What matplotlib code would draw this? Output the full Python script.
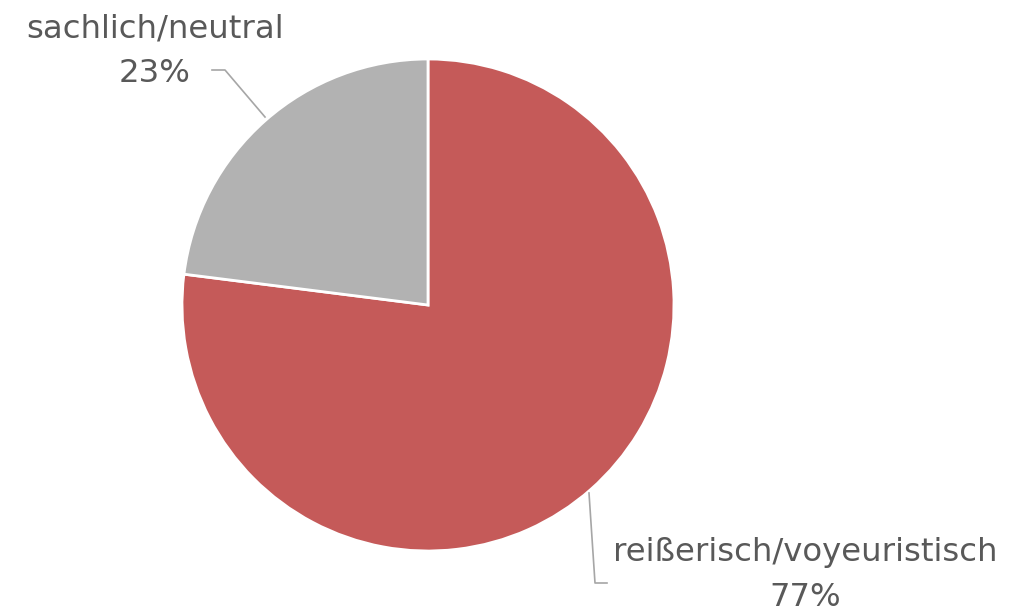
import matplotlib.pyplot as plt

categories = ['reißerisch/voyeuristisch', 'sachlich/neutral']
shares = [77, 23]
colors = ['#C55A59', '#B2B2B2']

W, H = 1028, 615
fig = plt.figure(figsize=(W / 100, H / 100), dpi=100)
ax = fig.add_axes([0, 0, 1, 1])

cx, cy, r = 428, H - 305, 246
ax.pie(shares, colors=colors, startangle=90, counterclock=False,
       center=(cx, cy), radius=r, frame=True,
       wedgeprops=dict(edgecolor='white', linewidth=2))
ax.set_xlim(0, W)
ax.set_ylim(0, H)
ax.set_aspect('equal')
ax.axis('off')

txt = dict(color='#595959', fontsize=23.3, family='DejaVu Sans Condensed',
           ha='center', va='center')
lab = dict(color='#A6A6A6', linewidth=1.2)

# label for grey slice (top left)
ax.text(155, H - 29, categories[1], **txt)
ax.text(155, H - 73, f'{shares[1]}%', **txt)
ax.plot([212, 225, 265], [H - 70, H - 70, H - 117], **lab)

# label for red slice (bottom right)
ax.text(805, H - 553, categories[0], **txt)
ax.text(805, H - 597, f'{shares[0]}%', **txt)
ax.plot([589, 595, 607], [H - 493, H - 583, H - 583], **lab)

fig.savefig('out.png', dpi=100)
